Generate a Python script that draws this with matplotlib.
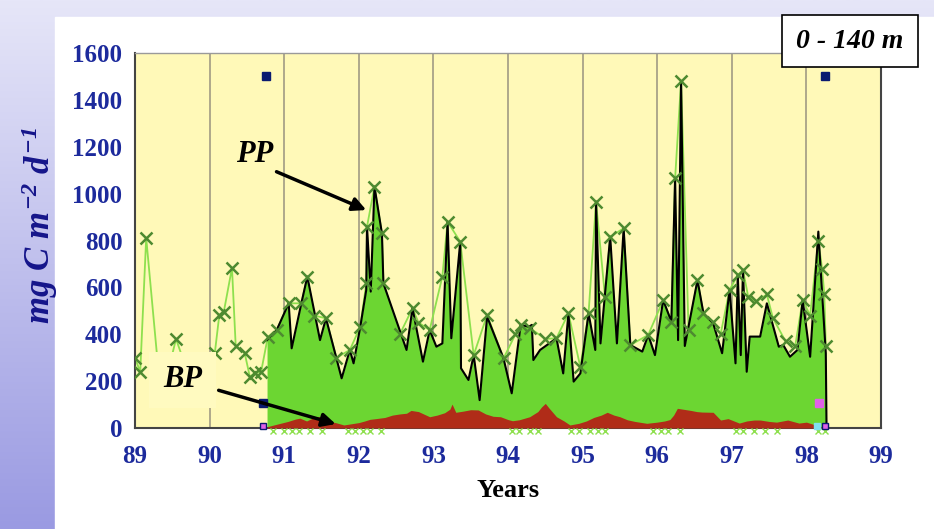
import numpy as np
import matplotlib
matplotlib.use('Agg')
import matplotlib.pyplot as plt
from matplotlib.colors import LinearSegmentedColormap
from matplotlib.patches import Rectangle

plt.rcParams['font.family'] = ['Liberation Serif', 'DejaVu Serif']
plt.rcParams['mathtext.fontset'] = 'custom'
plt.rcParams['mathtext.rm'] = 'Liberation Serif:bold:italic'
plt.rcParams['mathtext.it'] = 'Liberation Serif:bold:italic'

# PP (black line, green fill)
pp_x = [90.77, 90.9, 91.06, 91.1, 91.23, 91.31, 91.48, 91.56, 91.77, 91.88, 91.93, 92.02,
        92.1, 92.11, 92.16, 92.21, 92.31, 92.33, 92.64, 92.72, 92.86, 92.95, 93.04, 93.12,
        93.19, 93.24, 93.36, 93.37, 93.47, 93.54, 93.62, 93.72, 93.94, 94.05, 94.17, 94.28,
        94.32, 94.34, 94.43, 94.65, 94.74, 94.81, 94.88, 94.97, 95.08, 95.17, 95.18, 95.24,
        95.37, 95.46, 95.55, 95.64, 95.8, 95.88, 95.97, 96.08, 96.19, 96.24, 96.28, 96.32,
        96.37, 96.54, 96.62, 96.75, 96.87, 96.97, 97.05, 97.08, 97.12, 97.15, 97.2, 97.24,
        97.38, 97.47, 97.63, 97.69, 97.78, 97.88, 97.95, 98.05, 98.16, 98.26, 98.27]
pp_y = [375, 418, 532, 340, 532, 646, 375, 468, 212, 333, 276, 432,
        589, 859, 582, 1030, 830, 617, 333, 511, 283, 418, 347, 361,
        880, 383, 795, 255, 205, 311, 119, 475, 297, 148, 440, 432,
        440, 290, 333, 383, 233, 489, 198, 233, 489, 333, 966, 361,
        816, 361, 852, 354, 326, 397, 311, 546, 454, 1065, 375, 1480,
        350, 631, 489, 447, 319, 589, 276, 653, 311, 674, 240, 390,
        390, 532, 347, 354, 304, 333, 546, 304, 838, 319, 0]

# light green series with x markers
g_x = [89.0, 89.07, 89.15, 89.35, 89.55, 89.8, 90.07, 90.13, 90.19, 90.3, 90.35, 90.47,
       90.54, 90.61, 90.69, 90.78, 90.9, 91.06, 91.23, 91.31, 91.4, 91.56, 91.7, 91.88,
       92.02, 92.1, 92.11, 92.21, 92.31, 92.33, 92.55, 92.72, 92.8, 92.95, 93.12, 93.19,
       93.36, 93.54, 93.72, 93.94, 94.1, 94.17, 94.3, 94.5, 94.65, 94.81, 94.97, 95.08,
       95.18, 95.3, 95.37, 95.55, 95.64, 95.88, 96.08, 96.19, 96.24, 96.32, 96.42, 96.54,
       96.62, 96.75, 96.85, 96.97, 97.08, 97.15, 97.22, 97.33, 97.47, 97.55, 97.72, 97.85,
       97.95, 98.05, 98.16, 98.21, 98.24, 98.26]
g_y = [300, 239, 811, 120, 380, 150, 320, 482, 495, 683, 350, 320,
       218, 235, 239, 388, 418, 532, 532, 646, 480, 468, 300, 333,
       432, 617, 859, 1030, 830, 617, 400, 511, 450, 418, 646, 880,
       795, 311, 482, 297, 400, 440, 425, 380, 383, 489, 260, 489,
       966, 560, 816, 852, 354, 397, 546, 454, 1065, 1480, 420, 631,
       489, 454, 400, 589, 653, 674, 560, 540, 570, 470, 370, 350,
       546, 480, 800, 680, 570, 350]

# BP (red fill)
bp_x = [90.77, 90.85, 90.95, 91.05, 91.15, 91.21, 91.3, 91.4, 91.5, 91.61, 91.7, 91.8,
        91.9, 92.0, 92.08, 92.15, 92.23, 92.35, 92.45, 92.55, 92.64, 92.7, 92.8, 92.95,
        93.05, 93.15, 93.22, 93.25, 93.3, 93.4, 93.5, 93.6, 93.7, 93.8, 93.9, 94.0,
        94.06, 94.15, 94.29, 94.4, 94.45, 94.5, 94.55, 94.65, 94.75, 94.83, 94.95, 95.05,
        95.15, 95.25, 95.33, 95.42, 95.5, 95.6, 95.7, 95.86, 96.0, 96.1, 96.17, 96.22,
        96.27, 96.35, 96.45, 96.53, 96.6, 96.75, 96.85, 96.95, 97.1, 97.2, 97.3, 97.38,
        97.5, 97.6, 97.75, 97.9, 98.0, 98.1, 98.18, 98.26]
bp_y = [5, 12, 20, 28, 38, 42, 30, 45, 50, 28, 22, 13,
        18, 23, 30, 37, 40, 45, 55, 60, 63, 75, 70, 48,
        55, 65, 80, 102, 67, 72, 78, 77, 60, 50, 48, 36,
        31, 35, 48, 70, 90, 105, 85, 48, 30, 13, 20, 30,
        45, 55, 67, 55, 48, 35, 28, 20, 25, 30, 36, 55,
        84, 80, 75, 70, 68, 67, 34, 40, 21, 30, 34, 34,
        28, 25, 34, 21, 25, 15, 6, 0]

# small green x marks just below the axis
low_x = [90.85, 91.0, 91.1, 91.2, 91.35, 91.5, 91.85, 91.95, 92.05, 92.15, 92.3,
         94.05, 94.15, 94.3, 94.4, 94.85, 94.95, 95.1, 95.2, 95.3,
         95.95, 96.05, 96.15, 96.3, 97.05, 97.15, 97.3, 97.45, 97.6, 98.15, 98.25]
low_y = [-14] * len(low_x)

years = list(range(89, 100))
yticks = list(range(0, 1601, 200))

fig = plt.figure(figsize=(9.34, 5.29), dpi=100)

# background: lavender gradient with white panel
bg = fig.add_axes([0, 0, 1, 1], zorder=-10)
cmap = LinearSegmentedColormap.from_list('bg', ['#E6E6F8', '#9A9AE2'])
bg.imshow(np.linspace(0, 1, 256).reshape(-1, 1), aspect='auto', cmap=cmap,
          extent=[0, 1, 0, 1])
bg.add_patch(Rectangle((55 / 934, 0), 1, 1 - 17 / 529, color='white'))
bg.set_xlim(0, 1)
bg.set_ylim(0, 1)
bg.axis('off')

ax = fig.add_axes([135 / 934, 101 / 529, 746 / 934, 375 / 529])
ax.set_facecolor('#FFF9B8')

ax.plot(g_x, g_y, color='#8EE04E', lw=1.3, zorder=1.5)
ax.fill_between(pp_x, 0, pp_y, color='#6CD632', lw=0, zorder=2)
ax.plot(pp_x, pp_y, color='black', lw=1.5, zorder=4)
ax.fill_between(bp_x, 0, bp_y, color='#B02C18', lw=0, zorder=5)
ax.plot(g_x, g_y, ls='none', marker='x', ms=8, mew=1.8, color='#4E8A30', zorder=6)
ax.plot(low_x, low_y, ls='none', marker='x', ms=4, mew=1, color='#8EE04E',
        clip_on=False, zorder=6)

# square markers
ax.plot([90.75, 98.25], [1500, 1500], ls='none', marker='s', ms=6, color='#0A1A70', zorder=7)
ax.plot([90.72], [105], ls='none', marker='s', ms=6, color='#0A1A70', zorder=7)
ax.plot([98.17], [105], ls='none', marker='s', ms=6, color='#E060E8', zorder=7)
ax.plot([90.72, 98.25], [8, 8], ls='none', marker='s', ms=5, mfc='#E060E8',
        mec='#0A1A70', clip_on=False, zorder=7)
ax.plot([98.14], [8], ls='none', marker='s', ms=5, color='#80E0F0', clip_on=False, zorder=7)

ax.set_xlim(89, 99)
ax.set_ylim(0, 1600)
ax.set_xticks(years)
ax.set_xticklabels([str(y) for y in years])
ax.set_yticks(yticks)
ax.tick_params(length=0, labelsize=18, labelcolor='#1C2A9C')
ax.tick_params(axis='x', pad=12)
ax.tick_params(axis='y', pad=9)
for lab in ax.get_xticklabels() + ax.get_yticklabels():
    lab.set_fontweight('bold')
ax.xaxis.grid(True, color='#A8A288', lw=1.3)
ax.set_axisbelow(True)
for s in ax.spines.values():
    s.set_color('#444444')
    s.set_linewidth(1.5)
ax.spines['top'].set_color('#9A9A9A')
ax.spines['top'].set_linewidth(1)

ax.set_xlabel('Years', fontsize=19, fontweight='bold', color='black', labelpad=8)
fig.text(40 / 934, 1 - 225 / 529, r'$mg\ C\ m^{-2}\ d^{-1}$', rotation=90,
         fontsize=25, color='#15158A', ha='center', va='center')

ax.annotate('PP', xy=(92.1, 930), xytext=(90.61, 1165), fontsize=22,
            fontweight='bold', fontstyle='italic', ha='center', va='center',
            arrowprops=dict(arrowstyle='-|>', color='black', lw=2.5,
                            mutation_scale=20, relpos=(0.75, 0.1),
                            shrinkA=0, shrinkB=0),
            zorder=10)
ax.annotate('BP', xy=(91.69, 17), xytext=(89.64, 205), fontsize=22,
            fontweight='bold', fontstyle='italic', ha='center', va='center',
            bbox=dict(boxstyle='square,pad=0.45', fc='#FFFAC0', ec='none'),
            arrowprops=dict(arrowstyle='-|>', color='black', lw=2.5,
                            mutation_scale=20, shrinkA=2, shrinkB=0),
            zorder=10)

fig.text(850 / 934, 1 - 41 / 529, '0 - 140 m', fontsize=20, fontweight='bold',
         fontstyle='italic', ha='center', va='center',
         bbox=dict(boxstyle='square,pad=0.5', fc='white', ec='black', lw=1.2))

fig.savefig('out.png', dpi=100)
